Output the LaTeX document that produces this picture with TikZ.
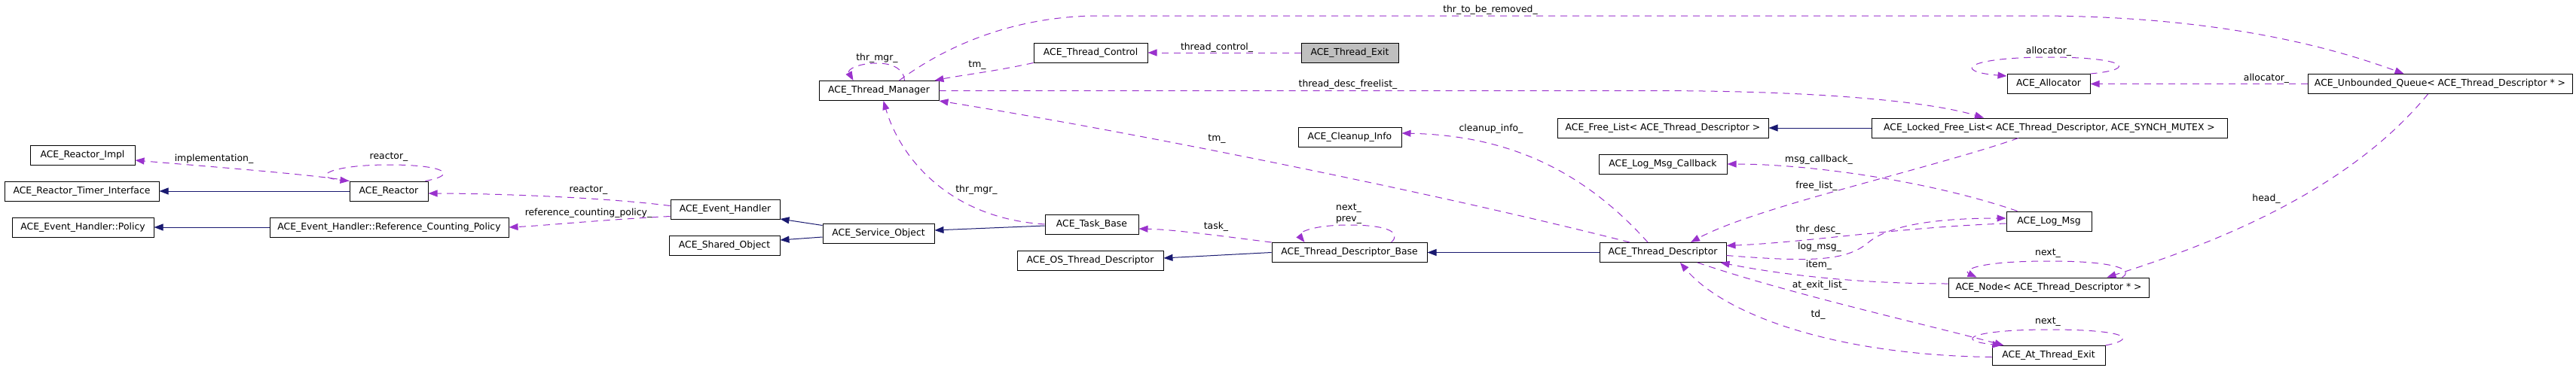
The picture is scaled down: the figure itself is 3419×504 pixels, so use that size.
\documentclass[tikz,border=0pt]{standalone}
\usepackage{fontspec}
\setmainfont{DejaVu Sans}
\usetikzlibrary{arrows.meta}
\definecolor{depc}{HTML}{9A32CD}
\definecolor{inhc}{HTML}{191970}
\definecolor{greyfill}{HTML}{BFBFBF}
\begin{document}
\begin{tikzpicture}[x=1pt,y=-1pt,
  cls/.style={draw=black,line width=1pt,fill=white,minimum height=26pt,inner sep=0pt,font=\fontsize{12.4}{14}\selectfont},
  lbl/.style={inner sep=0pt,font=\fontsize{12.4}{14}\selectfont},
  dep/.style={draw=depc,line width=1pt,dash pattern=on 9pt off 7pt,-{Triangle[length=12pt,width=9pt,fill=depc]}},
  inh/.style={draw=inhc,line width=1pt,-{Triangle[length=12pt,width=9pt,fill=inhc]}}]
\useasboundingbox[fill=white] (0,0) rectangle (3419,504);

% classes
\node[cls,minimum width=139pt] (reactorimpl) at (109.5,206) {ACE\_Reactor\_Impl};
\node[cls,minimum width=205pt] (rti) at (108.5,254) {ACE\_Reactor\_Timer\_Interface};
\node[cls,minimum width=104pt] (reactor) at (516,254) {ACE\_Reactor};
\node[cls,minimum width=188pt] (policy) at (110,302) {ACE\_Event\_Handler::Policy};
\node[cls,minimum width=317pt] (rcp) at (516.5,302) {ACE\_Event\_Handler::Reference\_Counting\_Policy};
\node[cls,minimum width=145pt] (eh) at (962.5,278.5) {ACE\_Event\_Handler};
\node[cls,minimum width=147pt] (so) at (961.5,326) {ACE\_Shared\_Object};
\node[cls,minimum width=148pt] (svc) at (1166,310) {ACE\_Service\_Object};
\node[cls,minimum width=124pt] (tb) at (1449,298) {ACE\_Task\_Base};
\node[cls,minimum width=159pt] (tm) at (1166.5,120.5) {ACE\_Thread\_Manager};
\node[cls,minimum width=151pt] (tc) at (1447.5,70) {ACE\_Thread\_Control};
\node[cls,minimum width=129pt,fill=greyfill] (te) at (1791.5,70) {ACE\_Thread\_Exit};
\node[cls,minimum width=137pt] (ci) at (1791.5,182) {ACE\_Cleanup\_Info};
\node[cls,minimum width=194pt] (ostd) at (1447,346) {ACE\_OS\_Thread\_Descriptor};
\node[cls,minimum width=206pt] (tdb) at (1791,335.5) {ACE\_Thread\_Descriptor\_Base};
\node[cls,minimum width=280pt] (fl) at (2207,170) {ACE\_Free\_List< ACE\_Thread\_Descriptor >};
\node[cls,minimum width=472pt] (lfl) at (2720,170) {ACE\_Locked\_Free\_List< ACE\_Thread\_Descriptor, ACE\_SYNCH\_MUTEX >};
\node[cls,minimum width=170pt] (lmc) at (2207,218) {ACE\_Log\_Msg\_Callback};
\node[cls,minimum width=168pt] (td) at (2207,335.5) {ACE\_Thread\_Descriptor};
\node[cls,minimum width=113pt] (lm) at (2719.5,294) {ACE\_Log\_Msg};
\node[cls,minimum width=266pt] (node) at (2719,382) {ACE\_Node< ACE\_Thread\_Descriptor * >};
\node[cls,minimum width=150pt] (ate) at (2719,472.5) {ACE\_At\_Thread\_Exit};
\node[cls,minimum width=110pt] (alloc) at (2719,111.5) {ACE\_Allocator};
\node[cls,minimum width=351pt] (uq) at (3238.5,111.5) {ACE\_Unbounded\_Queue< ACE\_Thread\_Descriptor * >};

% inheritance
\draw[inh] (reactor.west) -- (rti.east);
\draw[inh] (rcp.west) -- (policy.east);
\draw[inh] ([yshift=-3pt]svc.north west) -- ([yshift=1pt]eh.south east);
\draw[inh] ([yshift=-5pt]svc.west) -- ([yshift=7pt]so.east);
\draw[inh] ([yshift=-2pt]tb.west) -- ([yshift=4pt]svc.east);
\draw[inh] (tdb.west) -- ([yshift=3pt]ostd.east);
\draw[inh] (td.west) -- (tdb.east);
\draw[inh] (lfl.west) -- (fl.east);

% usage
\draw[dep] (reactor.north west) .. controls (420,232) and (260,220) .. ([yshift=-7pt]reactorimpl.east);
\draw[dep] ([xshift=-4pt]reactor.north east) .. controls (610,232) and (590,219) .. (516,219) .. controls (440,219) and (410,235) .. (reactor.north west);
\draw[dep] ([yshift=5pt]eh.west) .. controls (800,262) and (650,257) .. ([yshift=-3pt]reactor.east);
\draw[dep] ([yshift=-9pt]eh.west) .. controls (800,292) and (720,300) .. (rcp.east);
\draw[dep] (tb.west) .. controls (1260,290) and (1195,210) .. ([xshift=6pt]tm.south);
\draw[dep] ([xshift=34pt]tm.north) .. controls (1200,92) and (1185,84) .. (1164,84) .. controls (1140,84) and (1124,92) .. ([xshift=-34pt]tm.north);
\draw[dep] (tc.south west) .. controls (1320,95) and (1275,100) .. ([xshift=-6pt]tm.north east);
\draw[dep] (te.west) -- (tc.east);
\draw[dep] ([xshift=27pt]tm.north) .. controls (1250,65) and (1340,21) .. (1460,21) -- (2700,21) .. controls (2950,21) and (3100,65) .. ([xshift=-48pt]uq.north);
\draw[dep] (tm.east) -- (2200,120.5) .. controls (2420,121) and (2560,135) .. ([xshift=-87pt]lfl.north);
\draw[dep] ([xshift=-44pt]td.north) .. controls (1900,255) and (1500,175) .. (tm.south east);
\draw[dep] (tdb.north west) .. controls (1630,315) and (1560,305) .. ([yshift=-6pt]tb.east);
\draw[dep] ([xshift=-48pt]tdb.north east) .. controls (1860,310) and (1845,299) .. (1790,299) .. controls (1740,299) and (1722,310) .. ([xshift=44pt]tdb.north west);
\draw[dep] ([xshift=-20pt]td.north) .. controls (2100,225) and (2000,180) .. ([yshift=5pt]ci.east);
\draw[dep] ([xshift=15pt]lm.north west) .. controls (2560,240) and (2400,218) .. (lmc.east);
\draw[dep] ([xshift=-41pt]lfl.south) .. controls (2560,225) and (2330,275) .. ([xshift=37pt]td.north);
\draw[dep] ([yshift=-3pt]lm.west) .. controls (2520,302) and (2400,322) .. ([yshift=9pt]td.east);
\draw[dep] ([yshift=-4pt]td.east) .. controls (2400,348) and (2450,348) .. (2480,322) .. controls (2510,297) and (2580,290) .. ([yshift=4pt]lm.west);
\draw[dep] ([yshift=5pt]node.west) .. controls (2450,377) and (2350,362) .. ([xshift=-8pt]td.south east);
\draw[dep] ([xshift=46pt]td.south) .. controls (2380,392) and (2560,432) .. ([xshift=16pt]ate.north west);
\draw[dep] ([yshift=-2pt]ate.west) .. controls (2440,472) and (2290,420) .. ([xshift=23pt]td.south);
\draw[dep] ([xshift=-36pt]node.north east) .. controls (2832,360) and (2815,347) .. (2720,347) .. controls (2620,347) and (2605,360) .. ([xshift=38pt]node.north west);
\draw[dep] ([xshift=-16pt]uq.south) .. controls (3120,250) and (2950,320) .. ([xshift=-56pt]node.north east);
\draw[dep] (ate.north east) .. controls (2840,450) and (2820,438) .. (2720,438) .. controls (2620,438) and (2590,452) .. ([xshift=13pt]ate.north west);
\draw[dep] (alloc.north east) .. controls (2840,92) and (2820,76) .. (2720,76) .. controls (2610,76) and (2590,95) .. ([yshift=-3pt]alloc.north west);
\draw[dep] (uq.west) -- (alloc.east);

% labels
\node[lbl] (l1) at (284,211) {implementation\_};
\node[lbl] (l2) at (516,209) {reactor\_};
\node[lbl] (l3) at (781,253) {reactor\_};
\node[lbl] (l4) at (781,283) {reference\_counting\_policy\_};
\node[lbl] (l5) at (1296,252) {thr\_mgr\_};
\node[lbl] (l6) at (1164,77) {thr\_mgr\_};
\node[lbl] (l7) at (1297,87) {tm\_};
\node[lbl] (l8) at (1615,63) {thread\_control\_};
\node[lbl] (l9) at (1978,13) {thr\_to\_be\_removed\_};
\node[lbl] (l10) at (1789,112) {thread\_desc\_freelist\_};
\node[lbl] (l11) at (1615,185) {tm\_};
\node[lbl] (l12) at (1614,301) {task\_};
\node[lbl] (l13) at (1790,277) {next\_};
\node[lbl] (l14) at (1790,292) {prev\_};
\node[lbl] (l15) at (1979,171) {cleanup\_info\_};
\node[lbl] (l16) at (2414,212) {msg\_callback\_};
\node[lbl] (l17) at (2411,247) {free\_list\_};
\node[lbl] (l18) at (2413,305) {thr\_desc\_};
\node[lbl] (l19) at (2415,328) {log\_msg\_};
\node[lbl] (l20) at (2414,352) {item\_};
\node[lbl] (l21) at (2415,379) {at\_exit\_list\_};
\node[lbl] (l22) at (2413,418) {td\_};
\node[lbl] (l23) at (2718,337) {next\_};
\node[lbl] (l24) at (2718,428) {next\_};
\node[lbl] (l25) at (3008,264) {head\_};
\node[lbl] (l26) at (2719,68) {allocator\_};
\node[lbl] (l27) at (3008,104) {allocator\_};
\end{tikzpicture}
\end{document}
